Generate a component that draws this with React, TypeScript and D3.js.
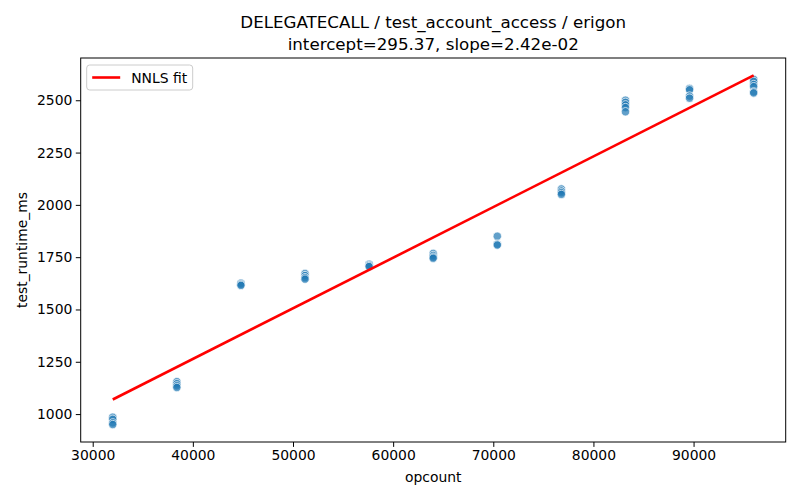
import React, { useRef, useEffect } from 'react';
import * as d3 from 'd3';

const opcounts = [32000, 38400, 44800, 51200, 57600, 64000, 70400, 76800, 83200, 89600, 96000];
const runtimes = [
  [985, 975, 958, 950],
  [1155, 1145, 1135, 1127],
  [1626, 1620, 1615],
  [1672, 1662, 1652, 1645],
  [1716, 1710, 1705],
  [1768, 1758, 1750, 1745],
  [1850, 1812, 1808],
  [2076, 2066, 2058, 2050],
  [2500, 2490, 2478, 2465, 2445],
  [2556, 2550, 2520, 2510],
  [2600, 2590, 2575, 2565, 2540, 2535],
];
const intercept = 295.37;
const slope = 0.0242;
const xTicks = [30000, 40000, 50000, 60000, 70000, 80000, 90000];
const yTicks = [1000, 1250, 1500, 1750, 2000, 2250, 2500];

const App = () => {
  const svgRef = useRef<SVGSVGElement>(null);

  useEffect(() => {
    if (!svgRef.current) return;
    const svg = d3.select(svgRef.current);
    svg.selectAll('*').remove();

    const width = 800;
    const height = 500;
    const margin = { top: 58, right: 14.3, bottom: 58, left: 80.7 };
    const font = 'DejaVu Sans, sans-serif';

    const points = opcounts.flatMap((x, i) => runtimes[i].map(y => ({ x, y })));
    const fit = d3.extent(opcounts).map(x => ({ x: x as number, y: intercept + slope * (x as number) }));

    const xMin = d3.min(opcounts)!;
    const xMax = d3.max(opcounts)!;
    const allY = points.map(p => p.y).concat(fit.map(p => p.y));
    const yMin = d3.min(allY)!;
    const yMax = d3.max(allY)!;
    const xPad = (xMax - xMin) * 0.05;
    const yPad = (yMax - yMin) * 0.05;

    const x = d3.scaleLinear()
      .domain([xMin - xPad, xMax + xPad])
      .range([margin.left, width - margin.right]);
    const y = d3.scaleLinear()
      .domain([yMin - yPad, yMax + yPad])
      .range([height - margin.bottom, margin.top]);

    svg.append('rect')
      .attr('width', width)
      .attr('height', height)
      .attr('fill', 'white');

    // points
    svg.append('g')
      .selectAll('circle')
      .data(points)
      .enter()
      .append('circle')
      .attr('cx', d => x(d.x))
      .attr('cy', d => y(d.y))
      .attr('r', 4.2)
      .attr('fill', '#1f77b4')
      .attr('fill-opacity', 0.7)
      .attr('stroke', 'white')
      .attr('stroke-opacity', 0.7)
      .attr('stroke-width', 1);

    // NNLS fit line
    const line = d3.line<{ x: number; y: number }>()
      .x(d => x(d.x))
      .y(d => y(d.y));
    svg.append('path')
      .datum(fit)
      .attr('fill', 'none')
      .attr('stroke', 'red')
      .attr('stroke-width', 2.6)
      .attr('d', line);

    // axes
    const xAxis = svg.append('g')
      .attr('transform', `translate(0,${height - margin.bottom})`)
      .call(d3.axisBottom(x).tickValues(xTicks).tickSize(4.9).tickPadding(3.5).tickFormat(d => String(d)));
    const yAxis = svg.append('g')
      .attr('transform', `translate(${margin.left},0)`)
      .call(d3.axisLeft(y).tickValues(yTicks).tickSize(4.9).tickPadding(3.5).tickFormat(d => String(d)));

    [xAxis, yAxis].forEach(g => {
      g.select('.domain').remove();
      g.selectAll('.tick line').attr('stroke', 'black').attr('stroke-width', 1);
      g.selectAll('.tick text')
        .attr('fill', 'black')
        .attr('font-family', font)
        .attr('font-size', '13.9px');
    });

    // frame
    svg.append('rect')
      .attr('x', margin.left)
      .attr('y', margin.top)
      .attr('width', width - margin.left - margin.right)
      .attr('height', height - margin.top - margin.bottom)
      .attr('fill', 'none')
      .attr('stroke', 'black')
      .attr('stroke-width', 1);

    const cx = (margin.left + width - margin.right) / 2;

    // axis labels
    svg.append('text')
      .attr('x', cx)
      .attr('y', 482)
      .attr('text-anchor', 'middle')
      .attr('font-family', font)
      .attr('font-size', '13.9px')
      .text('opcount');
    svg.append('text')
      .attr('transform', `translate(27,${(margin.top + height - margin.bottom) / 2}) rotate(-90)`)
      .attr('text-anchor', 'middle')
      .attr('font-family', font)
      .attr('font-size', '13.9px')
      .text('test_runtime_ms');

    // title
    svg.append('text')
      .attr('x', cx)
      .attr('y', 28)
      .attr('text-anchor', 'middle')
      .attr('font-family', font)
      .attr('font-size', '16.7px')
      .text('DELEGATECALL / test_account_access / erigon');
    svg.append('text')
      .attr('x', cx)
      .attr('y', 50)
      .attr('text-anchor', 'middle')
      .attr('font-family', font)
      .attr('font-size', '16.7px')
      .text(`intercept=${intercept.toFixed(2)}, slope=${slope.toExponential(2).replace('e-', 'e-0')}`);

    // legend
    const legend = svg.append('g').attr('transform', `translate(${margin.left + 6},${margin.top + 7})`);
    legend.append('rect')
      .attr('width', 106)
      .attr('height', 25)
      .attr('rx', 3)
      .attr('fill', 'white')
      .attr('fill-opacity', 0.8)
      .attr('stroke', '#cccccc')
      .attr('stroke-width', 1);
    legend.append('line')
      .attr('x1', 5.5)
      .attr('x2', 33.5)
      .attr('y1', 12.5)
      .attr('y2', 12.5)
      .attr('stroke', 'red')
      .attr('stroke-width', 2.6);
    legend.append('text')
      .attr('x', 44.5)
      .attr('y', 17.5)
      .attr('font-family', font)
      .attr('font-size', '13.9px')
      .text('NNLS fit');
  }, []);

  return (
    <svg
      ref={svgRef}
      width={800}
      height={500}
      style={{ position: 'absolute', left: 0, top: 0, display: 'block' }}
    />
  );
};

export default App;
